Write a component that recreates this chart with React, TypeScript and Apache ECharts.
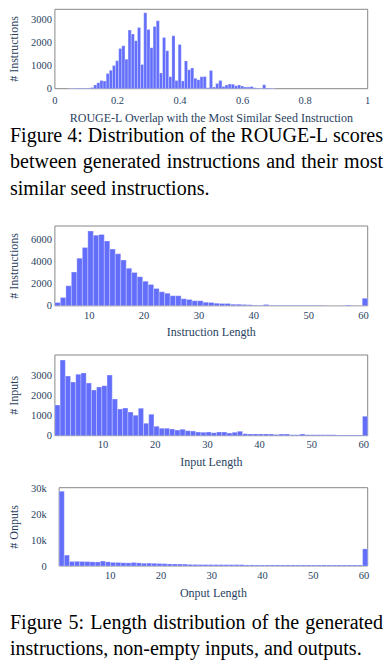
import React, { useEffect, useRef } from 'react';
import * as echarts from 'echarts';

// ---------- data ----------
// Figure 4: ROUGE-L histogram (bin width 0.01, first non-empty bin starts at 0.044)
const rougeBinStart = 0.044;
const rougeBinWidth = 0.01;
const rougeCounts = [
  20, 20, 25, 25, 25, 25, 30, 50, 160, 260,
  350, 330, 660, 800, 1000, 1210, 1745, 1860, 1280, 2540,
  2370, 2080, 2650, 1050, 3290, 2570, 1775, 2700, 2940, 680,
  2220, 1645, 520, 2290, 350, 1920, 330, 1200, 820, 900,
  450, 390, 520, 530, 40, 790, 70, 220, 350, 90,
  160, 200, 190, 130, 160, 115, 70, 70, 100, 45,
  30, 20, 170, 30, 30, 20,
];
const rougeXTicks = [0, 0.2, 0.4, 0.6, 0.8, 1];
const rougeYTicks = [0, 1000, 2000, 3000];

// Figure 5 (top): instruction length 4..60
const instrBinStart = 3.75;
const instrCounts = [
  300, 760, 1820, 3060, 4330, 5300, 6790, 6420, 6480, 5880,
  5150, 4730, 4150, 3420, 3030, 2640, 2240, 1940, 1575, 1270,
  1150, 910, 910, 640, 575, 455, 455, 330, 300, 240,
  210, 210, 150, 150, 120, 90, 60, 60, 110, 60,
  50, 50, 50, 45, 45, 45, 40, 40, 40, 35,
  15, 15, 20, 80, 20, 15, 680,
];
const instrYTicks = [0, 2000, 4000, 6000];

// Figure 5 (middle): input length 1..60
const inputBinStart = 0.75;
const inputCounts = [
  1530, 3780, 2980, 2680, 3070, 3130, 2630, 2280, 2430, 2500,
  3030, 1830, 1330, 1380, 1180, 1020, 1370, 620, 1070, 470,
  370, 370, 330, 280, 320, 250, 230, 180, 170, 180,
  150, 180, 180, 130, 170, 220, 100, 90, 90, 90,
  90, 80, 60, 80, 80, 50, 50, 80, 50, 50,
  50, 45, 45, 45, 40, 40, 40, 40, 40, 970,
];
const inputYTicks = [0, 1000, 2000, 3000];

// Figure 5 (bottom): output length 1..60
const outputBinStart = -0.1;
const outputBinWidth = 1.0142;
const outputCounts = [
  28900, 4200, 1750, 1800, 1750, 1700, 1600, 1550, 1900, 1600,
  1400, 1350, 1250, 1200, 1350, 1200, 1050, 1100, 1050, 950,
  900, 800, 780, 760, 720, 600, 580, 560, 560, 550,
  540, 540, 530, 520, 520, 520, 400, 410, 400, 390,
  400, 410, 400, 390, 400, 400, 390, 400, 390, 380,
  390, 400, 380, 390, 380, 390, 380, 380, 390, 6600,
];
const outputYTicks = [0, 10000, 20000, 30000];
const lengthXTicks = [10, 20, 30, 40, 50, 60];

const fig4Caption = [
  'Figure 4: Distribution of the ROUGE-L scores',
  'between generated instructions and their most',
  'similar seed instructions.',
];
const fig5Caption = [
  'Figure 5: Length distribution of the generated',
  'instructions, non-empty inputs, and outputs.',
];

// ---------- helpers ----------
const FONT = "'Liberation Serif', 'Times New Roman', Times, serif";
const INK = '#2a3f5f';
const BAR = '#636efa';

function hist(start: number, width: number, counts: number[]) {
  return counts.map((c, i) => [start + i * width, start + (i + 1) * width, c]);
}

let measureCtx: CanvasRenderingContext2D | null = null;
function measure(text: string, font: string) {
  if (!measureCtx) measureCtx = document.createElement('canvas').getContext('2d');
  if (!measureCtx) return text.length * 9;
  measureCtx.font = font;
  return measureCtx.measureText(text).width;
}

function captionLine(text: string, x: number, y: number, justifyWidth: number | null) {
  const base = { fontSize: 20, fontFamily: FONT, fill: '#000', verticalAlign: 'middle', align: 'left' };
  if (!justifyWidth) {
    return [{ type: 'text', x, y, silent: true, style: { ...base, text } }];
  }
  const font = "20px 'Liberation Serif'";
  const words = text.split(' ');
  const ws = words.map((w) => measure(w, font));
  const total = ws.reduce((a, b) => a + b, 0);
  const gap = (justifyWidth - total) / (words.length - 1);
  let cx = x;
  return words.map((w, i) => {
    const el = { type: 'text', x: cx, y, silent: true, style: { ...base, text: w } };
    cx += ws[i] + gap;
    return el;
  });
}

const panels = [
  {
    grid: { left: 53.3, top: 9.3, width: 314.4, height: 79.4 },
    xMin: 0, xMax: 1, xTicks: rougeXTicks,
    yMax: 3440, yTicks: rougeYTicks,
    xName: 'ROUGE-L Overlap with the Most Similar Seed Instruction',
    yName: '# Instructions',
    data: hist(rougeBinStart, rougeBinWidth, rougeCounts),
    xLabelMargin: 6, yLabelMargin: 3, xNameGap: 29, yNameGap: 38.3,
    yFmt: (v: number) => String(v),
    xFmt: (v: number) => String(Number(v.toFixed(2))),
  },
  {
    grid: { left: 53.3, top: 226, width: 314.4, height: 79.8 },
    xMin: 3.75, xMax: 60.75, xTicks: lengthXTicks,
    yMax: 7250, yTicks: instrYTicks,
    xName: 'Instruction Length',
    yName: '# Instructions',
    data: hist(instrBinStart, 1, instrCounts),
    xLabelMargin: 4, yLabelMargin: 3, xNameGap: 26.5, yNameGap: 38.3,
    yFmt: (v: number) => String(v),
    xFmt: (v: number) => String(v),
  },
  {
    grid: { left: 52.5, top: 355, width: 315.2, height: 80.7 },
    xMin: 0.75, xMax: 60.75, xTicks: lengthXTicks,
    yMax: 4035, yTicks: inputYTicks,
    xName: 'Input Length',
    yName: '# Inputs',
    data: hist(inputBinStart, 1, inputCounts),
    xLabelMargin: 3.5, yLabelMargin: 3, xNameGap: 26.5, yNameGap: 37.5,
    yFmt: (v: number) => String(v),
    xFmt: (v: number) => String(v),
  },
  {
    grid: { left: 49.5, top: 487.7, width: 318.2, height: 78.3 },
    xMin: -0.1, xMax: 60.75, xTicks: lengthXTicks,
    yMax: 30230, yTicks: outputYTicks,
    xName: 'Onput Length',
    yName: '# Onputs',
    data: hist(outputBinStart, outputBinWidth, outputCounts),
    xLabelMargin: 4, yLabelMargin: 12.5, xNameGap: 26.5, yNameGap: 34.5,
    yFmt: (v: number) => (v === 0 ? '0' : `${v / 1000}k`),
    xFmt: (v: number) => String(v),
  },
];

function buildOption() {
  const labelStyle = { fontFamily: FONT, fontSize: 10.5, color: INK };
  const nameStyle = { fontFamily: FONT, fontSize: 12, color: INK, verticalAlign: 'middle' };
  const graphic: any[] = [];
  fig4Caption.forEach((t, i) => {
    graphic.push(...captionLine(t, 10, 134.5 + i * 26.5, i < fig4Caption.length - 1 ? 373 : null));
  });
  fig5Caption.forEach((t, i) => {
    graphic.push(...captionLine(t, 10, 621.5 + i * 26, i < fig5Caption.length - 1 ? 373 : null));
  });

  return {
    animation: false,
    backgroundColor: '#ffffff',
    grid: panels.map((p) => ({
      ...p.grid,
      show: true,
      borderColor: '#878787',
      borderWidth: 1,
      backgroundColor: 'transparent',
      containLabel: false,
    })),
    xAxis: panels.map((p, i) => ({
      type: 'value',
      gridIndex: i,
      min: p.xMin,
      max: p.xMax,
      name: p.xName,
      nameLocation: 'middle',
      nameGap: p.xNameGap,
      nameTextStyle: nameStyle,
      axisLine: { show: false },
      axisTick: { show: false },
      splitLine: { show: false },
      axisLabel: {
        ...labelStyle,
        margin: p.xLabelMargin,
        customValues: p.xTicks,
        formatter: p.xFmt,
        hideOverlap: false,
      },
    })),
    yAxis: panels.map((p, i) => ({
      type: 'value',
      gridIndex: i,
      min: 0,
      max: p.yMax,
      name: p.yName,
      nameLocation: 'middle',
      nameRotate: 90,
      nameGap: p.yNameGap,
      nameTextStyle: nameStyle,
      axisLine: { show: false },
      axisTick: { show: false },
      splitLine: { show: false },
      axisLabel: {
        ...labelStyle,
        margin: p.yLabelMargin,
        customValues: p.yTicks,
        formatter: p.yFmt,
        hideOverlap: false,
      },
    })),
    series: panels.map((p, i) => ({
      type: 'custom',
      xAxisIndex: i,
      yAxisIndex: i,
      clip: true,
      encode: { x: [0, 1], y: 2 },
      data: p.data,
      renderItem: (_params: any, api: any) => {
        const x0 = api.value(0);
        const x1 = api.value(1);
        const y = api.value(2);
        const a = api.coord([x0, 0]);
        const b = api.coord([x1, y]);
        return {
          type: 'rect',
          shape: { x: a[0], y: b[1], width: b[0] - a[0], height: a[1] - b[1] },
          style: { fill: BAR, stroke: 'rgba(255,255,255,0.55)', lineWidth: 0.5 },
        };
      },
    })),
    graphic,
  };
}

export default function App() {
  const ref = useRef<HTMLDivElement>(null);
  useEffect(() => {
    if (!ref.current) return;
    const chart = echarts.init(ref.current, null, { renderer: 'svg' });
    chart.setOption(buildOption() as any);
    return () => chart.dispose();
  }, []);
  return (
    <div
      ref={ref}
      style={{ position: 'fixed', left: 0, top: 0, width: 388, height: 670, background: '#fff' }}
    />
  );
}
